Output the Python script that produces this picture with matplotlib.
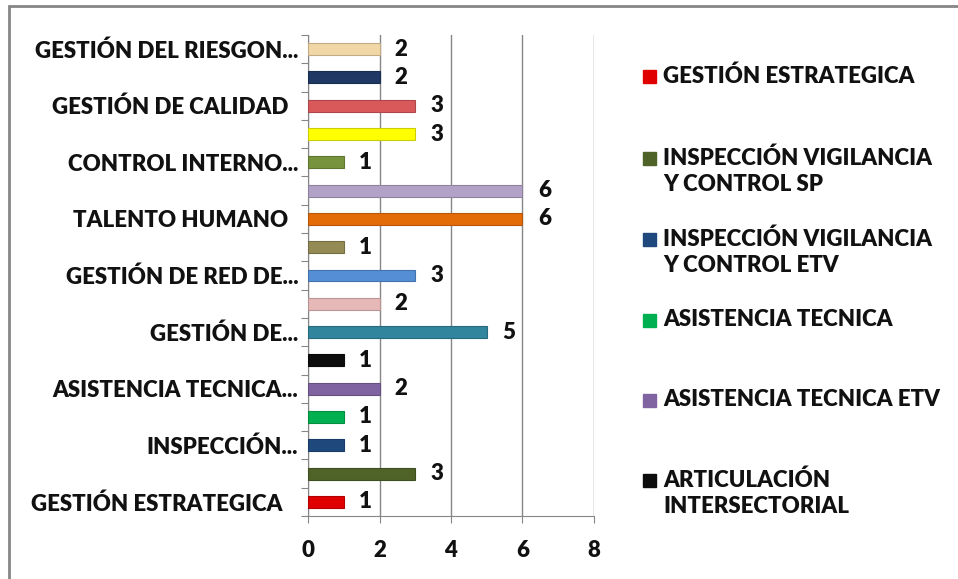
import matplotlib.pyplot as plt
import numpy as np
from matplotlib.patches import Rectangle

# bars listed from bottom to top
tick_labels = [
    "GESTIÓN ESTRATEGICA   ", "", "INSPECCIÓN...", "", "ASISTENCIA TECNICA...", "",
    "GESTIÓN DE...", "", "GESTIÓN DE RED DE...", "", "TALENTO HUMANO  ", "",
    "CONTROL INTERNO...", "", "GESTIÓN DE CALIDAD  ", "", "GESTIÓN DEL RIESGON...",
]
values = [1, 3, 1, 1, 2, 1, 5, 2, 3, 1, 6, 6, 1, 3, 3, 2, 2]
colors = [
    "#e00000", "#4f6228", "#1f497d", "#00b050", "#8064a2", "#0d0d0d",
    "#31859c", "#e6b9b8", "#558ed5", "#948a54", "#e36c09", "#b3a2c7",
    "#77933c", "#ffff00", "#d9595b", "#1f3864", "#f2d7a6",
]
legend_labels = [
    "GESTIÓN ESTRATEGICA",
    "INSPECCIÓN VIGILANCIA\nY CONTROL SP",
    "INSPECCIÓN VIGILANCIA\nY CONTROL ETV",
    "ASISTENCIA TECNICA",
    "ASISTENCIA TECNICA ETV",
    "ARTICULACIÓN\nINTERSECTORIAL",
]
legend_y = [76, 158, 239, 320, 400, 480]  # pixel rows of first text line
line_gap = 27

plt.rcParams["font.family"] = ["Lato", "DejaVu Sans"]
plt.rcParams["font.weight"] = "heavy"
fs = 16
ink = "#111111"
wt = "heavy"

fig = plt.figure(figsize=(9.58, 5.79), dpi=100)
W, H = 958, 579
ax = fig.add_axes([308 / W, 1 - 516 / H, (594 - 308) / W, (516 - 35) / H])

y = np.arange(len(values))
darker = [tuple(c * 0.8 for c in plt.matplotlib.colors.to_rgb(col)) for col in colors]
ax.barh(y, values, height=0.42, color=colors, edgecolor=darker, linewidth=0.8, zorder=3)
for yi, v in zip(y, values):
    ax.annotate(str(v), (v, yi), xytext=(11, 0), textcoords="offset points",
                va="center", ha="left", fontsize=fs, fontweight=wt, color=ink)

ax.set_xlim(0, 8)
ax.set_ylim(-0.5, len(values) - 0.5)
ax.set_xticks([0, 2, 4, 6, 8])
ax.tick_params(axis="x", labelsize=fs, length=5, color="#868686", pad=12, labelcolor=ink)
ax.set_yticks(np.arange(-0.5, len(values), 1.0))
ax.set_yticklabels([])
ax.set_yticks(y, minor=True)
ax.set_yticklabels(tick_labels, minor=True, fontsize=fs, color=ink, fontweight=wt)
ax.tick_params(axis="y", which="major", length=5, color="#868686")
ax.tick_params(axis="y", which="minor", length=0, pad=7)
ax.grid(axis="x", color="#868686", linewidth=1, zorder=0)
for s in ["top", "right"]:
    ax.spines[s].set_visible(False)
for s in ["left", "bottom"]:
    ax.spines[s].set_color("#868686")

# manual legend, first six series only
for lab, py, col in zip(legend_labels, legend_y, colors[:6]):
    n = lab.count("\n")
    fig.patches.append(Rectangle((643 / W, 1 - (py + 7) / H), 13 / W, 13 / H,
                                 transform=fig.transFigure, facecolor=col,
                                 edgecolor=col, figure=fig))
    fig.text(663 / W, 1 - (py + n * line_gap / 2) / H, lab, fontsize=fs,
             fontweight=wt, va="center", ha="left", linespacing=1.3, color=ink)

# outer chart frame
fig.patches.append(Rectangle((9 / W, -0.05), 1.2, 1 - 6 / H + 0.05,
                             transform=fig.transFigure, fill=False,
                             edgecolor="#868686", linewidth=2, figure=fig))

fig.savefig("out.png", dpi=100)
